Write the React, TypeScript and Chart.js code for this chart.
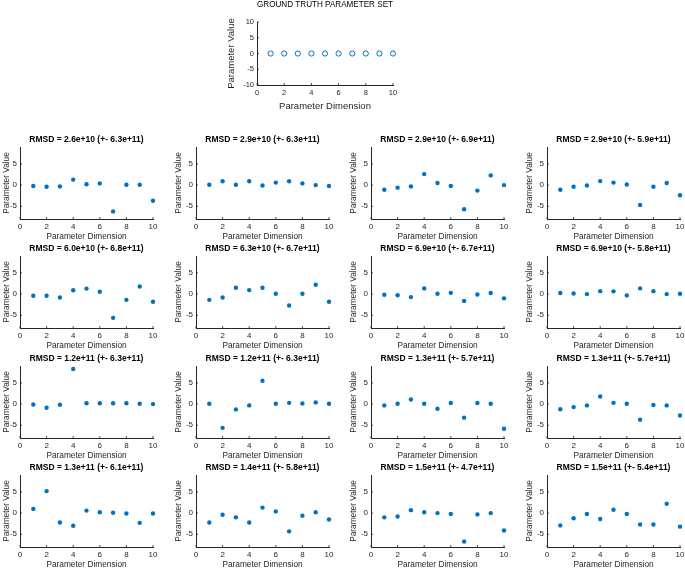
import React, { useEffect, useRef } from "react";
import { Chart, registerables } from "chart.js";

Chart.register(...registerables);

// ---------- data ----------
const DIMENSIONS = [1, 2, 3, 4, 5, 6, 7, 8, 9, 10];
const GROUND_TRUTH = [0, 0, 0, 0, 0, 0, 0, 0, 0, 0];

const RUN_01 = [-0.2, -0.4, -0.3, 1.3, 0.2, 0.4, -6.2, 0.1, 0.1, -3.7];
const RUN_02 = [0.1, 0.9, 0.1, 0.9, -0.1, 0.6, 0.9, 0.4, 0.0, -0.2];
const RUN_03 = [-1.1, -0.6, -0.3, 2.6, 0.5, -0.2, -5.7, -1.3, 2.3, 0.0];
const RUN_04 = [-1.1, -0.4, -0.1, 0.95, 0.6, 0.15, -4.7, -0.4, 0.5, -2.4];
const RUN_05 = [-0.4, -0.4, -0.8, 0.9, 1.3, 0.55, -5.6, -1.35, 1.8, -1.8];
const RUN_06 = [-1.35, -0.8, 1.5, 0.95, 1.5, 0.1, -2.7, 0.1, 2.2, -1.8];
const RUN_07 = [-0.15, -0.25, -0.7, 1.35, 0.1, 0.3, -1.6, -0.1, 0.25, -1.0];
const RUN_08 = [0.25, 0.15, 0.0, 0.7, 0.65, -0.3, 1.35, 0.7, 0.0, 0.1];
const RUN_09 = [-0.1, -0.85, -0.15, 8.3, 0.2, 0.2, 0.2, 0.2, 0.1, 0.0];
const RUN_10 = [0.1, -5.6, -1.25, -0.3, 5.5, 0.1, 0.3, 0.15, 0.4, 0.1];
const RUN_11 = [-0.3, 0.1, 1.1, 0.1, -1.1, 0.25, -3.2, 0.25, 0.1, -5.8];
const RUN_12 = [-1.2, -0.7, -0.3, 1.8, 0.3, 0.1, -3.7, -0.2, -0.3, -2.7];
const RUN_13 = [1.0, 5.2, -2.2, -3.0, 0.6, 0.2, 0.1, -0.1, -2.3, -0.1];
const RUN_14 = [-2.2, -0.4, -1.0, -2.2, 1.3, 0.4, -4.3, -0.6, 0.2, -1.5];
const RUN_15 = [-1.0, -0.8, 0.7, 0.2, 0.0, -0.2, -6.7, -0.3, 0.0, -4.1];
const RUN_16 = [-2.9, -1.2, -0.2, -1.4, 0.8, -0.2, -2.7, -2.7, 2.2, -3.2];

const RUN_TITLES = [
  "RMSD = 2.6e+10 (+- 6.3e+11)",
  "RMSD = 2.9e+10 (+- 6.3e+11)",
  "RMSD = 2.9e+10 (+- 6.9e+11)",
  "RMSD = 2.9e+10 (+- 5.9e+11)",
  "RMSD = 6.0e+10 (+- 6.8e+11)",
  "RMSD = 6.3e+10 (+- 6.7e+11)",
  "RMSD = 6.9e+10 (+- 6.7e+11)",
  "RMSD = 6.9e+10 (+- 5.8e+11)",
  "RMSD = 1.2e+11 (+- 6.3e+11)",
  "RMSD = 1.2e+11 (+- 6.3e+11)",
  "RMSD = 1.3e+11 (+- 5.7e+11)",
  "RMSD = 1.3e+11 (+- 5.7e+11)",
  "RMSD = 1.3e+11 (+- 6.1e+11)",
  "RMSD = 1.4e+11 (+- 5.8e+11)",
  "RMSD = 1.5e+11 (+- 4.7e+11)",
  "RMSD = 1.5e+11 (+- 5.4e+11)",
];

const TOP_TITLE = "GROUND TRUTH PARAMETER SET";
const X_LABEL = "Parameter Dimension";
const Y_LABEL = "Parameter Value";
const X_TICKS = [0, 2, 4, 6, 8, 10];
const Y_TICKS = [-5, 0, 5];
const Y_TICKS_TOP = [-10, -5, 0, 5, 10];
const X_RANGE = [0, 10];
const Y_RANGE = [-8, 9];
const Y_RANGE_TOP = [-10, 10];

const RUNS = [
  RUN_01, RUN_02, RUN_03, RUN_04, RUN_05, RUN_06, RUN_07, RUN_08,
  RUN_09, RUN_10, RUN_11, RUN_12, RUN_13, RUN_14, RUN_15, RUN_16,
];

// ---------- style ----------
const FONT = "'Liberation Sans', Arial, Helvetica, sans-serif";
const AXIS = "#262626";
const BLUE = "#0072BD";

const inwardTicks = {
  id: "inwardTicks",
  afterDraw(chart: any) {
    const { ctx, chartArea } = chart;
    const xs = chart.scales.x;
    const ys = chart.scales.y;
    ctx.save();
    ctx.strokeStyle = AXIS;
    ctx.lineWidth = 0.8;
    ctx.beginPath();
    xs.ticks.forEach((t: any) => {
      const px = xs.getPixelForValue(t.value);
      ctx.moveTo(px, chartArea.bottom);
      ctx.lineTo(px, chartArea.bottom - 2);
    });
    ys.ticks.forEach((t: any) => {
      const py = ys.getPixelForValue(t.value);
      ctx.moveTo(chartArea.left, py);
      ctx.lineTo(chartArea.left + 2, py);
    });
    ctx.stroke();
    ctx.restore();
  },
};

type PanelProps = {
  values: number[];
  title: string;
  left: number;
  top: number;
  yWidth: number;
  plotW: number;
  plotH: number;
  titleBlock: { pt: number; pb: number; size: number; bold: boolean };
  xHeight: number;
  xTitlePb: number;
  yTitlePt: number;
  labelSize: number;
  tickSize: number;
  yTicks: number[];
  yRange: number[];
  open: boolean;
};

function Panel(p: PanelProps) {
  const ref = useRef<HTMLCanvasElement>(null);
  const rightPad = 8;
  const titleH = p.titleBlock.pt + p.titleBlock.pb + 10;
  const width = p.yWidth + p.plotW + rightPad;
  const height = titleH + p.plotH + p.xHeight;

  useEffect(() => {
    if (!ref.current) return;
    const chart = new Chart(ref.current, {
      type: "scatter",
      data: {
        datasets: [
          {
            data: DIMENSIONS.map((x, i) => ({ x, y: p.values[i] })),
            clip: false,
            pointRadius: p.open ? 2.6 : 2.2,
            pointHoverRadius: p.open ? 2.6 : 2.2,
            pointBackgroundColor: p.open ? "rgba(0,0,0,0)" : BLUE,
            pointBorderColor: BLUE,
            pointBorderWidth: p.open ? 1 : 0,
          },
        ],
      },
      plugins: [inwardTicks],
      options: {
        responsive: false,
        animation: false,
        events: [],
        layout: { padding: { left: 0, right: rightPad, top: 0, bottom: 0 } },
        plugins: {
          legend: { display: false },
          tooltip: { enabled: false },
          title: {
            display: true,
            fullSize: false,
            align: "center",
            text: p.title,
            color: "#000",
            font: {
              family: FONT,
              size: p.titleBlock.size,
              weight: p.titleBlock.bold ? "bold" : "normal",
              lineHeight: "10px",
            },
            padding: { top: p.titleBlock.pt, bottom: p.titleBlock.pb },
          },
        },
        scales: {
          x: {
            type: "linear",
            min: X_RANGE[0],
            max: X_RANGE[1],
            afterBuildTicks: (s: any) => {
              s.ticks = X_TICKS.map((v) => ({ value: v }));
            },
            afterFit: (s: any) => {
              s.height = p.xHeight;
            },
            grid: { display: true, drawOnChartArea: false, drawTicks: false },
            border: { display: true, color: AXIS, width: 1 },
            ticks: {
              color: AXIS,
              padding: 3,
              maxRotation: 0,
              autoSkip: false,
              font: { family: FONT, size: p.tickSize, lineHeight: "9px" },
            },
            title: {
              display: true,
              text: X_LABEL,
              color: AXIS,
              padding: { top: 0, bottom: p.xTitlePb },
              font: { family: FONT, size: p.labelSize, lineHeight: "10px" },
            },
          },
          y: {
            type: "linear",
            min: p.yRange[0],
            max: p.yRange[1],
            afterBuildTicks: (s: any) => {
              s.ticks = p.yTicks.map((v) => ({ value: v }));
            },
            afterFit: (s: any) => {
              s.width = p.yWidth;
            },
            grid: { display: true, drawOnChartArea: false, drawTicks: false },
            border: { display: true, color: AXIS, width: 1 },
            ticks: {
              color: AXIS,
              padding: 3,
              autoSkip: false,
              font: { family: FONT, size: p.tickSize, lineHeight: "9px" },
            },
            title: {
              display: true,
              text: Y_LABEL,
              color: AXIS,
              padding: { top: p.yTitlePt, bottom: 0 },
              font: { family: FONT, size: p.labelSize, lineHeight: "10px" },
            },
          },
        },
      } as any,
    });
    return () => chart.destroy();
  }, []);

  return (
    <canvas
      ref={ref}
      width={width}
      height={height}
      style={{ position: "absolute", left: p.left, top: p.top, width, height }}
    />
  );
}

const PLOT_LEFTS = [20, 196, 371, 547];
const PLOT_TOPS = [147, 256, 366, 475];

export default function App() {
  return (
    <div
      style={{
        position: "fixed",
        left: 0,
        top: 0,
        width: 685,
        height: 569,
        overflow: "hidden",
        background: "#ffffff",
      }}
    >
      <Panel
        values={GROUND_TRUTH}
        title={TOP_TITLE}
        left={257 - 34}
        top={0}
        yWidth={34}
        plotW={136}
        plotH={63}
        titleBlock={{ pt: 0, pb: 12, size: 8.6, bold: false }}
        xHeight={28}
        xTitlePb={2}
        yTitlePt={3}
        labelSize={9.5}
        tickSize={7.5}
        yTicks={Y_TICKS_TOP}
        yRange={Y_RANGE_TOP}
        open={true}
      />
      {RUNS.map((vals, i) => {
        const c = i % 4;
        const r = Math.floor(i / 4);
        const yw = c === 0 ? 20 : 24;
        return (
          <Panel
            key={i}
            values={vals}
            title={RUN_TITLES[i]}
            left={PLOT_LEFTS[c] - yw}
            top={PLOT_TOPS[r] - 15}
            yWidth={yw}
            plotW={133}
            plotH={72}
            titleBlock={{ pt: 3, pb: 2, size: 8.5, bold: true }}
            xHeight={24}
            xTitlePb={1}
            yTitlePt={2}
            labelSize={8.3}
            tickSize={8}
            yTicks={Y_TICKS}
            yRange={Y_RANGE}
            open={false}
          />
        );
      })}
    </div>
  );
}
